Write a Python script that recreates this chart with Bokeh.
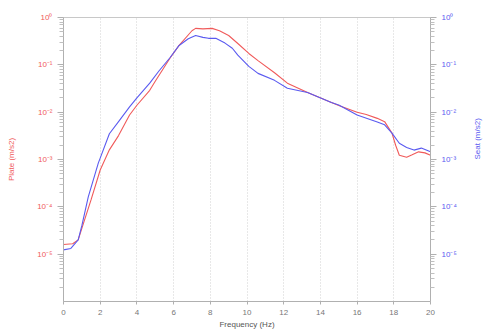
import math
from bokeh.plotting import figure
from bokeh.models import Range1d, LogAxis, FixedTicker
from bokeh.embed import file_html
from bokeh.resources import INLINE

# Frequency (Hz) and acceleration (m/s2)
plate_freq = [0, 0.5, 0.8, 1.0, 1.5, 2.0, 2.5, 3.0, 3.6, 4.0, 4.7, 5.0, 5.8, 6.3, 7.0, 7.2,
              7.6, 8.1, 8.5, 9.0, 9.5, 10.1, 10.6, 11.5, 12.2, 13.3, 14.6, 15.0, 16.0, 16.5,
              17.1, 17.5, 17.9, 18.1, 18.3, 18.7, 19.0, 19.35, 19.7, 20.0]
plate_acc = [1.6e-5, 1.66e-5, 2.0e-5, 3.5e-5, 1.4e-4, 6.0e-4, 1.6e-3, 3.2e-3, 8.7e-3, 1.4e-2,
             2.9e-2, 4.5e-2, 0.138, 0.257, 0.525, 0.589, 0.575, 0.589, 0.525, 0.417, 0.282,
             0.174, 0.123, 6.8e-2, 4.1e-2, 2.6e-2, 1.6e-2, 1.38e-2, 1.0e-2, 8.9e-3, 7.4e-3,
             6.3e-3, 3.6e-3, 2.0e-3, 1.23e-3, 1.12e-3, 1.26e-3, 1.45e-3, 1.38e-3, 1.23e-3]

seat_freq = [0, 0.4, 0.8, 1.0, 1.35, 1.9, 2.0, 2.5, 3.0, 3.6, 4.0, 4.7, 5.2, 5.8, 6.3, 6.8,
             7.2, 7.6, 7.9, 8.3, 8.8, 9.2, 9.5, 10.1, 10.6, 11.5, 12.2, 13.3, 14.6, 15.0,
             16.0, 17.1, 17.5, 17.9, 18.3, 18.7, 19.1, 19.5, 20.0]
seat_acc = [1.23e-5, 1.32e-5, 2.0e-5, 4.0e-5, 1.62e-4, 8.5e-4, 1.07e-3, 3.5e-3, 6.3e-3,
            1.29e-2, 2.0e-2, 4.1e-2, 7.4e-2, 0.141, 0.257, 0.355, 0.417, 0.380, 0.363, 0.363,
            0.288, 0.224, 0.16, 9.3e-2, 6.6e-2, 4.7e-2, 3.2e-2, 2.6e-2, 1.6e-2, 1.41e-2,
            8.7e-3, 6.2e-3, 5.4e-3, 3.6e-3, 2.2e-3, 1.8e-3, 1.58e-3, 1.74e-3, 1.45e-3]

x_ticks = [0, 2, 4, 6, 8, 10, 12, 14, 16, 18, 20]
y_ticks = [1e-5, 1e-4, 1e-3, 1e-2, 1e-1, 1.0]
y_tick_labels = ["10⁻⁵", "10⁻⁴", "10⁻³", "10⁻²", "10⁻¹", "10⁰"]
x_label = "Frequency (Hz)"
left_label = "Plate (m/s2)"
right_label = "Seat (m/s2)"

RED = "#f05a5a"
BLUE = "#5a5af0"
FONT = "Liberation Sans"

minor = []
for e in range(-6, 0):
    for m in range(2, 10):
        minor.append(m * 10.0 ** e)

p = figure(width=489, height=331, y_axis_type="log", output_backend="svg",
           toolbar_location=None, x_range=Range1d(0, 20), y_range=Range1d(1e-6, 1),
           min_border_left=63, min_border_right=55, min_border_top=17, min_border_bottom=29)
p.extra_y_ranges = {"seat": Range1d(1e-6, 1)}

p.line(plate_freq, plate_acc, color=RED, line_width=1.1)
p.line(seat_freq, seat_acc, color=BLUE, line_width=1.1, y_range_name="seat")

p.outline_line_color = "#c8c8c8"
p.ygrid.visible = False
p.xgrid.grid_line_color = "#d0d0d0"
p.xgrid.grid_line_dash = "1 2"
p.xgrid.ticker = FixedTicker(ticks=x_ticks)

xa = p.xaxis[0]
xa.ticker = FixedTicker(ticks=x_ticks)
xa.axis_label = x_label
xa.axis_label_text_font = FONT
xa.axis_label_text_font_style = "normal"
xa.axis_label_text_font_size = "8px"
xa.axis_label_text_color = "#555555"
xa.axis_label_standoff = 2
xa.major_label_text_font = FONT
xa.major_label_text_font_size = "8px"
xa.major_label_text_color = "#777777"
xa.axis_line_color = "#b0b0b0"
xa.major_tick_line_color = "#b0b0b0"
xa.major_tick_out = 3
xa.major_tick_in = 0
xa.minor_tick_line_color = None

ya = p.yaxis[0]
ra = LogAxis(y_range_name="seat")
p.add_layout(ra, "right")

for ax, col, lab in ((ya, RED, left_label), (ra, BLUE, right_label)):
    ax.ticker = FixedTicker(ticks=y_ticks, minor_ticks=minor)
    ax.major_label_overrides = {t: l for t, l in zip(y_ticks, y_tick_labels)}
    ax.axis_label = lab
    ax.axis_label_text_font = FONT
    ax.axis_label_text_font_style = "normal"
    ax.axis_label_text_font_size = "8px"
    ax.axis_label_text_color = col
    ax.major_label_text_font = FONT
    ax.major_label_text_font_size = "8px"
    ax.major_label_text_color = col
    ax.axis_line_color = "#b0b0b0"
    ax.major_tick_line_color = "#b0b0b0"
    ax.minor_tick_line_color = "#c0c0c0"
    ax.major_tick_out = 6
    ax.major_tick_in = 0
    ax.minor_tick_out = 4
    ax.minor_tick_in = 0
    ax.axis_label_standoff = 18

ra.axis_label_orientation = math.pi / 2

open("out.html", "w").write(file_html(p, INLINE))
